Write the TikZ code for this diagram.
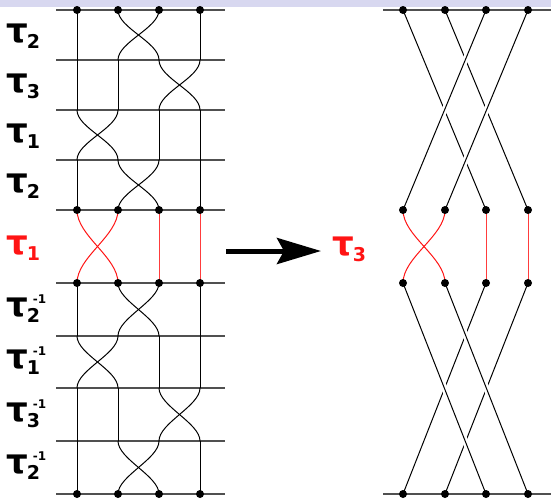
\documentclass[tikz,border=0pt]{standalone}
\usepackage{fontspec}
\setmainfont{DejaVu Sans}
\usetikzlibrary{arrows.meta}
\definecolor{band}{RGB}{216,216,240}
\definecolor{rulegray}{RGB}{80,80,80}
\definecolor{redA}{RGB}{255,20,20}
\definecolor{redB}{RGB}{255,60,60}
\newcommand{\tausub}[1]{τ\kern-1pt\raisebox{-6pt}{\fontsize{19}{19}\selectfont #1}}
\newcommand{\tauinv}[1]{τ\kern-1pt\rlap{\raisebox{-6pt}{\fontsize{19}{19}\selectfont #1}}\kern6pt\raisebox{13pt}{\fontsize{12}{12}\selectfont -1}}
\begin{document}
\begin{tikzpicture}[x=1pt,y=-1pt,
  dot/.style={circle,fill=black,inner sep=0pt,minimum size=8pt},
  hline/.style={draw=rulegray,line width=1.3pt},
  strand/.style={draw=black,line width=1pt},
  rstrand/.style={draw=redA,line width=1pt},
  rvert/.style={draw=redB,line width=1pt},
  overstrand/.style={strand,preaction={draw=white,line width=6pt,shorten <=22pt,shorten >=22pt}},
  lab/.style={anchor=west,inner sep=0pt,font=\bfseries\fontsize{34}{34}\selectfont},
  rlab/.style={lab,text=redA}]
\useasboundingbox (0,0) rectangle (551,498);
\fill[band] (0,0) rectangle (551,7);

% ---------- left panel coordinates ----------
\foreach \k/\y in {0/10,1/60,2/110,3/160,4/210,5/283,6/336,7/388,8/441,9/494}{
  \foreach \i/\x in {1/77,2/118,3/159,4/200}{
    \coordinate (P\i-\k) at (\x,\y);
  }
  \coordinate (H\k-w) at (56,\y);
  \coordinate (H\k-e) at (225,\y);
}
% horizontal rules
\foreach \k in {0,...,9}{ \draw[hline] (H\k-w) -- (H\k-e); }

% black sections
\foreach \secn/\crs in {1/2,2/3,3/1,4/2,6/2,7/1,8/3,9/2}{
  \pgfmathtruncatemacro\pa{\secn-1}
  \pgfmathtruncatemacro\pb{\crs+1}
  \draw[strand] (P\crs-\pa) .. controls +(0,18) and +(0,-18) .. (P\pb-\secn);
  \draw[strand] (P\pb-\pa) .. controls +(0,18) and +(0,-18) .. (P\crs-\secn);
  \foreach \i in {1,2,3,4}{
    \ifnum\i=\crs\relax\else\ifnum\i=\pb\relax\else
      \draw[strand] (P\i-\pa) -- (P\i-\secn);
    \fi\fi
  }
}
% red section (left)
\draw[rstrand] (P1-4) .. controls +(0,26) and +(0,-26) .. (P2-5);
\draw[rstrand] (P2-4) .. controls +(0,26) and +(0,-26) .. (P1-5);
\draw[rvert] (P3-4) -- (P3-5);
\draw[rvert] (P4-4) -- (P4-5);

% dots left
\foreach \k in {0,4,5,9}{
  \foreach \i in {1,2,3,4}{ \node[dot] (DL\i-\k) at (P\i-\k) {}; }
}

% labels left
\node[lab] (l1) at (6,36) {\tausub{2}};
\node[lab] (l2) at (6,86) {\tausub{3}};
\node[lab] (l3) at (6,136) {\tausub{1}};
\node[lab] (l4) at (6,186) {\tausub{2}};
\node[rlab] (l5) at (6,248) {\tausub{1}};
\node[lab] (l6) at (6,309) {\tauinv{2}};
\node[lab] (l7) at (6,361) {\tauinv{1}};
\node[lab] (l8) at (6,414) {\tauinv{3}};
\node[lab] (l9) at (6,466) {\tauinv{2}};

% ---------- arrow ----------
\coordinate (arS) at (226,251);
\coordinate (arE) at (321,251);
\draw[line width=5pt,-{Stealth[length=44pt,width=26pt,inset=7pt]}] (arS) -- (arE);
\node[rlab] (l10) at (332,249) {\tausub{3}};

% ---------- right panel ----------
\foreach \k/\y in {a/10,b/210,c/283,d/494}{
  \foreach \i/\x in {1/403,2/445,3/486,4/528}{
    \coordinate (R\i-\k) at (\x,\y);
  }
}
\coordinate (RT-w) at (383,10);
\coordinate (RT-e) at (551,10);
\coordinate (RB-w) at (383,494);
\coordinate (RB-e) at (551,494);
\draw[hline] (RT-w) -- (RT-e);
\draw[hline] (RB-w) -- (RB-e);

% upper right: down-left strands over
\draw[strand] (R1-a) -- (R3-b);
\draw[strand] (R2-a) -- (R4-b);
\draw[overstrand] (R3-a) -- (R1-b);
\draw[overstrand] (R4-a) -- (R2-b);
% lower right: down-right strands over
\draw[strand] (R3-c) -- (R1-d);
\draw[strand] (R4-c) -- (R2-d);
\draw[overstrand] (R1-c) -- (R3-d);
\draw[overstrand] (R2-c) -- (R4-d);
% red section right
\draw[rstrand] (R1-b) .. controls +(0,26) and +(0,-26) .. (R2-c);
\draw[rstrand] (R2-b) .. controls +(0,26) and +(0,-26) .. (R1-c);
\draw[rvert] (R3-b) -- (R3-c);
\draw[rvert] (R4-b) -- (R4-c);

\foreach \k in {a,b,c,d}{
  \foreach \i in {1,2,3,4}{ \node[dot] (DR\i-\k) at (R\i-\k) {}; }
}
\end{tikzpicture}
\end{document}
